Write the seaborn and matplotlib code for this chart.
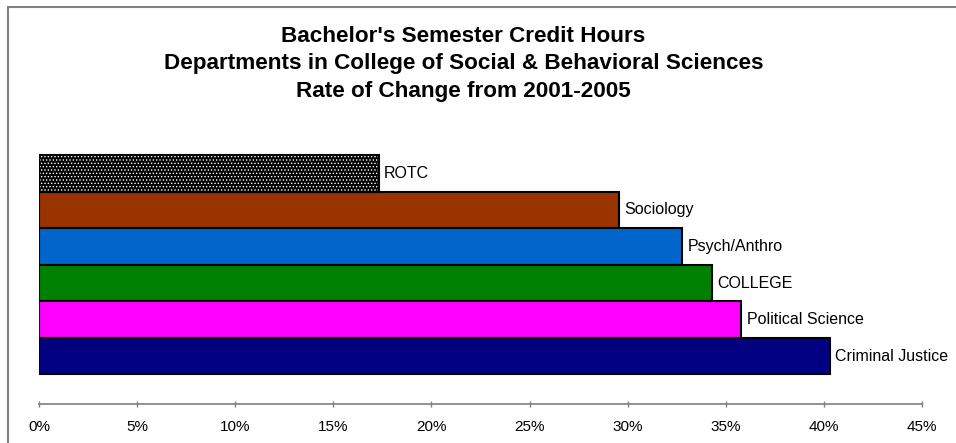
import pandas as pd
import numpy as np
import matplotlib
matplotlib.use("Agg")
import matplotlib.pyplot as plt
from matplotlib.ticker import PercentFormatter
from matplotlib.patches import Rectangle
import seaborn as sns

# data
departments = ["ROTC", "Sociology", "Psych/Anthro", "COLLEGE", "Political Science", "Criminal Justice"]
rate_change = [0.173, 0.2955, 0.328, 0.343, 0.358, 0.403]
bar_colors = ["#000000", "#993300", "#0066CC", "#008000", "#FF00FF", "#000080"]
x_ticks = [0, 0.05, 0.10, 0.15, 0.20, 0.25, 0.30, 0.35, 0.40, 0.45]
title_lines = ["Bachelor's Semester Credit Hours",
               "Departments in College of Social & Behavioral Sciences",
               "Rate of Change from 2001-2005"]

df = pd.DataFrame({"dept": departments, "rate": rate_change})

sns.set_style("white")
plt.rcParams['font.family'] = ['Liberation Sans', 'DejaVu Sans']
plt.rcParams['text.color'] = 'black'
plt.rcParams['hatch.linewidth'] = 0.6

W, H = 956, 443
fig = plt.figure(figsize=(W / 100, H / 100), dpi=100)

# axes placed in pixel terms so the bars line up with the reference
ax_left, ax_right = 39.3, 921.7
ax_bottom_px = 404
ylim_top, ylim_bot = -1.184, 6.31
bar_px = 36.55
ax_h = (ylim_bot - ylim_top) * bar_px
ax = fig.add_axes([ax_left / W, 1 - ax_bottom_px / H, (ax_right - ax_left) / W, ax_h / H])

sns.barplot(data=df, x="rate", y="dept", hue="dept", palette=bar_colors,
            saturation=1, legend=False, width=1.0, edgecolor="black",
            linewidth=1.5, orient="h", ax=ax)

# ROTC bar gets the dotted fill
rotc = ax.patches[0]
rotc.set_hatch(".....")
if hasattr(rotc, "set_hatchcolor"):
    rotc.set_hatchcolor("white")
    rotc.set_edgecolor("black")
else:
    rotc.set_edgecolor("white")
    ax.add_patch(Rectangle(rotc.get_xy(), rotc.get_width(), rotc.get_height(),
                           fill=False, edgecolor="black", linewidth=1.5))

for p, name in zip(ax.patches, departments):
    ax.annotate(name, (p.get_width(), p.get_y() + p.get_height() / 2),
                xytext=(4, 0), textcoords="offset points",
                va="center", ha="left", fontsize=11.5, color="black")

ax.set_xlim(0, 0.45)
ax.set_ylim(ylim_bot, ylim_top)
ax.set_xticks(x_ticks)
ax.xaxis.set_major_formatter(PercentFormatter(1.0, decimals=0))
ax.set_yticks([])
ax.set_xlabel("")
ax.set_ylabel("")
for s in ["left", "top", "right"]:
    ax.spines[s].set_visible(False)
ax.spines["bottom"].set_color("#808080")
ax.spines["bottom"].set_linewidth(1.2)
ax.tick_params(axis="x", direction="inout", length=5, width=1, color="#808080",
               labelsize=11, labelcolor="black", pad=9, bottom=True)
ax.set_facecolor("none")

# titles
for line, base in zip(title_lines, [41.7, 69.3, 97.3]):
    fig.text(463.5 / W, 1 - base / H, line, ha="center", va="baseline",
             fontsize=16.2, fontweight="bold", color="black")

# chart border (runs off the right/bottom edge)
fig.patches.append(Rectangle((8 / W, -0.05), 1.1, 1 - 7 / H + 0.05,
                             transform=fig.transFigure, fill=False,
                             edgecolor="#808080", linewidth=1.5))

fig.savefig("out.png", dpi=100)
